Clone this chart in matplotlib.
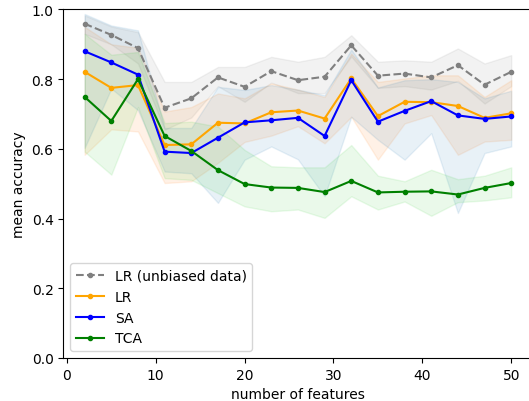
import matplotlib

matplotlib.use("Agg")

import matplotlib.pyplot as plt

n_features = [2, 5, 8, 11, 14, 17, 20, 23, 26, 29, 32, 35, 38, 41, 44, 47, 50]

lr_unbiased_mean = [0.959, 0.927, 0.889, 0.718, 0.745, 0.805, 0.778, 0.823, 0.797,
                    0.807, 0.897, 0.810, 0.816, 0.805, 0.840, 0.784, 0.821]
lr_unbiased_lo = [0.930, 0.900, 0.845, 0.655, 0.690, 0.780, 0.735, 0.790, 0.760,
                  0.760, 0.865, 0.775, 0.780, 0.770, 0.795, 0.730, 0.780]
lr_unbiased_hi = [0.983, 0.951, 0.935, 0.792, 0.792, 0.835, 0.835, 0.864, 0.850,
                  0.864, 0.926, 0.850, 0.854, 0.850, 0.888, 0.845, 0.869]

lr_mean = [0.821, 0.775, 0.783, 0.611, 0.613, 0.675, 0.673, 0.705, 0.710,
           0.687, 0.802, 0.694, 0.735, 0.734, 0.723, 0.689, 0.702]
lr_lo = [0.583, 0.656, 0.650, 0.502, 0.507, 0.560, 0.620, 0.638, 0.665,
         0.616, 0.692, 0.569, 0.673, 0.697, 0.583, 0.621, 0.626]
lr_hi = [0.950, 0.900, 0.890, 0.707, 0.720, 0.759, 0.745, 0.788, 0.770,
         0.749, 0.873, 0.792, 0.802, 0.811, 0.811, 0.749, 0.797]

sa_mean = [0.880, 0.848, 0.813, 0.592, 0.588, 0.632, 0.676, 0.682, 0.689,
           0.637, 0.797, 0.678, 0.709, 0.737, 0.696, 0.686, 0.693]
sa_lo = [0.603, 0.773, 0.711, 0.535, 0.530, 0.445, 0.569, 0.607, 0.570,
         0.464, 0.692, 0.626, 0.569, 0.645, 0.416, 0.588, 0.607]
sa_hi = [0.987, 0.954, 0.940, 0.660, 0.660, 0.778, 0.769, 0.783, 0.770,
         0.754, 0.885, 0.776, 0.797, 0.800, 0.792, 0.745, 0.767]

tca_mean = [0.749, 0.680, 0.800, 0.637, 0.594, 0.539, 0.499, 0.489, 0.488,
            0.476, 0.508, 0.475, 0.477, 0.478, 0.469, 0.488, 0.502]
tca_lo = [0.592, 0.526, 0.720, 0.516, 0.511, 0.473, 0.435, 0.421, 0.426,
          0.402, 0.464, 0.426, 0.449, 0.408, 0.447, 0.452, 0.461]
tca_hi = [0.930, 0.870, 0.878, 0.674, 0.678, 0.664, 0.597, 0.550, 0.547,
          0.547, 0.611, 0.523, 0.507, 0.540, 0.513, 0.523, 0.547]

series = [
    ("LR (unbiased data)", lr_unbiased_mean, lr_unbiased_lo, lr_unbiased_hi, "gray", "gray", "--"),
    ("LR", lr_mean, lr_lo, lr_hi, "orange", "tab:orange", "-"),
    ("SA", sa_mean, sa_lo, sa_hi, "blue", "tab:blue", "-"),
    ("TCA", tca_mean, tca_lo, tca_hi, "green", "limegreen", "-"),
]

fig = plt.figure(figsize=(5.29, 4.02), dpi=100)
ax = fig.add_axes([0.1197, 0.107, 0.887, 0.867])

for label, mean, lo, hi, color, band_color, style in series:
    ax.fill_between(n_features, lo, hi, color=band_color, alpha=0.1)
    ax.plot(n_features, mean, marker=".", linestyle=style, color=color, label=label)

ax.set_ylim(0, 1.0)
ax.set_xlabel("number of features")
ax.set_ylabel("mean accuracy")
ax.legend(loc="lower left")

fig.savefig("out.png", dpi=100)
